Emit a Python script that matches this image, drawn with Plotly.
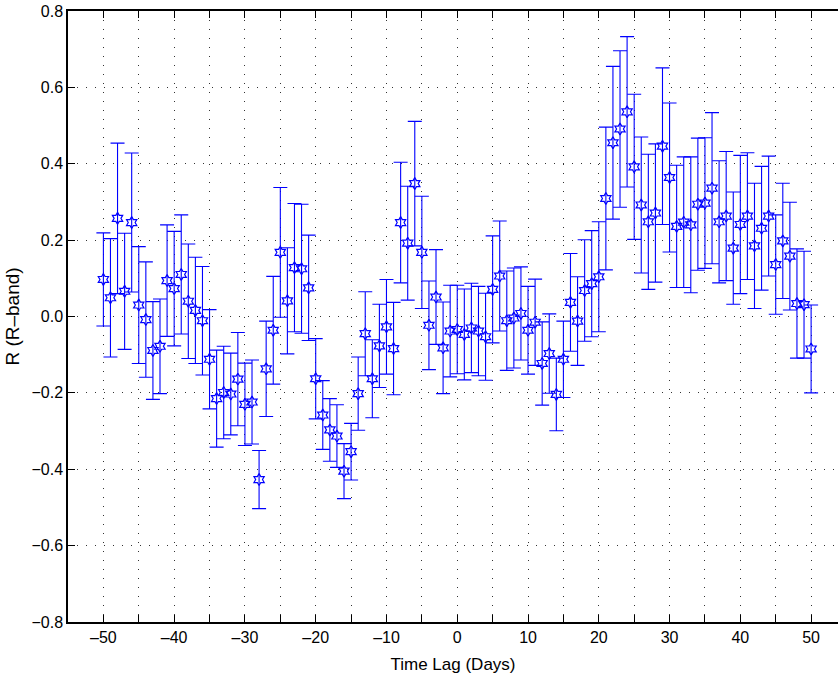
import plotly.graph_objects as go

lags = list(range(-50, 51))
r_vals = [
    0.097, 0.049, 0.257, 0.066, 0.246, 0.030, -0.008, -0.089, -0.078, 0.094,
    0.073, 0.110, 0.040, 0.016, -0.011, -0.112, -0.215, -0.199, -0.203, -0.164,
    -0.230, -0.224, -0.427, -0.137, -0.036, 0.168, 0.041, 0.128, 0.125, 0.075,
    -0.163, -0.258, -0.297, -0.313, -0.405, -0.354, -0.202, -0.045, -0.163, -0.077,
    -0.027, -0.084, 0.246, 0.192, 0.348, 0.168, -0.023, 0.051, -0.082, -0.038,
    -0.034, -0.047, -0.030, -0.038, -0.053, 0.071, 0.106, -0.011, -0.004, 0.008,
    -0.036, -0.015, -0.123, -0.097, -0.204, -0.112, 0.037, -0.012, 0.068, 0.086,
    0.104, 0.309, 0.455, 0.491, 0.536, 0.392, 0.292, 0.248, 0.271, 0.446,
    0.364, 0.236, 0.247, 0.240, 0.294, 0.297, 0.336, 0.248, 0.263, 0.179,
    0.241, 0.263, 0.185, 0.231, 0.263, 0.136, 0.198, 0.158, 0.034, 0.031,
    -0.085,
]
r_err = [
    0.122, 0.155, 0.197, 0.152, 0.182, 0.153, 0.151, 0.128, 0.124, 0.146,
    0.150, 0.156, 0.150, 0.139, 0.142, 0.130, 0.127, 0.121, 0.107, 0.122,
    0.108, 0.110, 0.076, 0.125, 0.141, 0.170, 0.139, 0.168, 0.169, 0.138,
    0.105, 0.090, 0.082, 0.082, 0.072, 0.074, 0.096, 0.110, 0.102, 0.109,
    0.124, 0.121, 0.158, 0.149, 0.163, 0.147, 0.116, 0.124, 0.120, 0.120,
    0.116, 0.119, 0.117, 0.117, 0.114, 0.140, 0.144, 0.130, 0.131, 0.122,
    0.115, 0.113, 0.109, 0.104, 0.095, 0.100, 0.128, 0.116, 0.133, 0.139,
    0.144, 0.187, 0.200, 0.205, 0.197, 0.190, 0.178, 0.177, 0.181, 0.205,
    0.195, 0.160, 0.171, 0.178, 0.173, 0.171, 0.198, 0.160, 0.169, 0.147,
    0.181, 0.166, 0.164, 0.162, 0.157, 0.130, 0.151, 0.141, 0.143, 0.140,
    0.115,
]
x_tickvals = list(range(-55, 56, 5))
x_ticktext = [str(v).replace("-", "\u2013") if v % 10 == 0 else "" for v in x_tickvals]
y_tickvals = [-0.8, -0.6, -0.4, -0.2, 0.0, 0.2, 0.4, 0.6, 0.8]
y_ticktext = [("%.1f" % v).replace("-", "\u2212") for v in y_tickvals]

fig = go.Figure()
fig.add_trace(go.Scatter(
    x=lags, y=r_vals, mode="markers",
    marker=dict(symbol="hexagram-open", size=9, color="#0000ff",
                line=dict(color="#0000ff", width=1.2)),
    error_y=dict(type="data", array=r_err, visible=True, color="#0000ff",
                 thickness=1.1, width=7),
    showlegend=False,
))

fig.update_layout(
    width=838, height=679,
    margin=dict(l=68, r=0, t=11, b=57),
    paper_bgcolor="white", plot_bgcolor="white",
    font=dict(family="Liberation Sans, Arial, sans-serif", size=16, color="black"),
    xaxis=dict(
        range=[-55, 53.8], tickvals=x_tickvals, ticktext=x_ticktext,
        ticks="inside", ticklen=7, tickcolor="black", tickwidth=1,
        showline=True, linecolor="black", linewidth=1.5, mirror="ticks",
        showgrid=True, gridcolor="#333333", gridwidth=1, griddash="1px,8px",
        zeroline=False, automargin=False,
        title=dict(text="Time Lag (Days)", font=dict(size=17), standoff=13),
        tickfont=dict(size=16),
    ),
    yaxis=dict(
        range=[-0.8, 0.8], tickvals=y_tickvals, ticktext=y_ticktext,
        ticks="inside", ticklen=7, tickcolor="black", tickwidth=1,
        showline=True, linecolor="black", linewidth=1.5,
        showgrid=True, gridcolor="#333333", gridwidth=1, griddash="1px,8px",
        zeroline=False, automargin=False,
        title=dict(text="R (R\u2013band)", font=dict(size=19), standoff=7),
        tickfont=dict(size=16),
    ),
)

fig.write_html("out.html", config={"displayModeBar": False},
               post_script="document.body.style.margin='0';")
